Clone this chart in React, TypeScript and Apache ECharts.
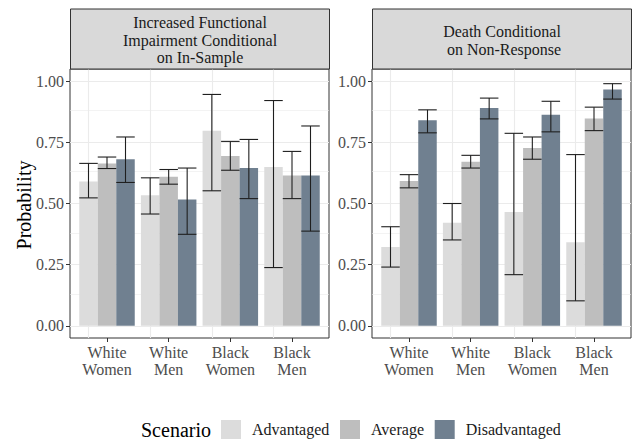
import React, { useEffect, useRef } from "react";
import * as echarts from "echarts";

const categories = ["White\nWomen", "White\nMen", "Black\nWomen", "Black\nMen"];
const scenarios = ["Advantaged", "Average", "Disadvantaged"];
const yTicks = [0, 0.25, 0.5, 0.75, 1];
const yMinorTicks = [0.125, 0.375, 0.625, 0.875];

// Panel 1: Increased Functional Impairment Conditional on In-Sample
const impAdv = [0.59, 0.534, 0.798, 0.649];
const impAdvLo = [0.523, 0.457, 0.552, 0.238];
const impAdvHi = [0.664, 0.605, 0.946, 0.921];
const impAvg = [0.664, 0.609, 0.694, 0.615];
const impAvgLo = [0.643, 0.579, 0.636, 0.52];
const impAvgHi = [0.69, 0.639, 0.754, 0.713];
const impDis = [0.681, 0.516, 0.645, 0.615];
const impDisLo = [0.586, 0.374, 0.52, 0.387];
const impDisHi = [0.772, 0.645, 0.762, 0.817];

// Panel 2: Death Conditional on Non-Response
const deaAdv = [0.322, 0.421, 0.465, 0.342];
const deaAdvLo = [0.24, 0.351, 0.209, 0.102];
const deaAdvHi = [0.405, 0.5, 0.787, 0.7];
const deaAvg = [0.592, 0.671, 0.727, 0.848];
const deaAvgLo = [0.564, 0.645, 0.681, 0.798];
const deaAvgHi = [0.618, 0.697, 0.772, 0.894];
const deaDis = [0.84, 0.891, 0.863, 0.966];
const deaDisLo = [0.789, 0.846, 0.793, 0.927];
const deaDisHi = [0.883, 0.931, 0.918, 0.99];

const panelTitles = [
  "Increased Functional\nImpairment Conditional\non In-Sample",
  "Death Conditional\n on Non-Response",
];

const colors = ["#DCDCDC", "#BEBEBE", "#708090"];
const FONT = "Liberation Serif";
const SMALL = 16;
const BIG = 20;

export default function App() {
  const ref = useRef<HTMLDivElement>(null);
  useEffect(() => {
    if (!ref.current) return;
    const chart = echarts.init(ref.current, null, { renderer: "svg" });

    const panels = [
      { vals: [impAdv, impAvg, impDis], lo: [impAdvLo, impAvgLo, impDisLo], hi: [impAdvHi, impAvgHi, impDisHi] },
      { vals: [deaAdv, deaAvg, deaDis], lo: [deaAdvLo, deaAvgLo, deaDisLo], hi: [deaAdvHi, deaAvgHi, deaDisHi] },
    ];
    const gridLefts = [70, 372];
    const gridW = 259;
    const gridTop = 69;
    const gridH = 269;

    const grids = gridLefts.map((l) => ({
      left: l,
      top: gridTop,
      width: gridW,
      height: gridH,
      show: true,
      borderColor: "#333333",
      borderWidth: 1,
      backgroundColor: "#ffffff",
      containLabel: false,
    }));

    const xAxes = gridLefts.map((_, gi) => ({
      type: "value",
      gridIndex: gi,
      min: 0.4,
      max: 4.6,
      axisLine: { show: false, onZero: false },
      splitLine: { show: false },
      axisTick: { show: true, customValues: [1, 2, 3, 4], length: 4, lineStyle: { color: "#333333", width: 1 } },
      axisLabel: {
        customValues: [1, 2, 3, 4],
        formatter: (v: number) => categories[Math.round(v) - 1],
        fontFamily: FONT,
        fontSize: SMALL,
        color: "#4D4D4D",
        lineHeight: 17,
        margin: 6,
      },
    }));

    const yAxes = gridLefts.map((_, gi) => ({
      type: "value",
      gridIndex: gi,
      min: -0.05,
      max: 1.05,
      axisLine: { show: false, onZero: false },
      splitLine: { show: false },
      axisTick: { show: true, customValues: yTicks, length: 4, lineStyle: { color: "#333333", width: 1 } },
      axisLabel: {
        customValues: yTicks,
        formatter: (v: number) => v.toFixed(2),
        fontFamily: FONT,
        fontSize: SMALL,
        color: "#4D4D4D",
        margin: 6,
      },
    }));

    const errRender = (params: any, api: any) => {
      const xv = api.value(0);
      const lo = api.value(1);
      const hi = api.value(2);
      const k = api.value(3);
      const band = api.size([1, 0])[0];
      const bw = (band * 0.9) / 3;
      const cx = api.coord([xv, 0])[0] + (k - 1) * bw;
      const yl = api.coord([xv, lo])[1];
      const yh = api.coord([xv, hi])[1];
      const h = bw / 2;
      const style = { stroke: "#1f1f1f", lineWidth: 1.1, fill: null };
      return {
        type: "group",
        children: [
          { type: "line", shape: { x1: cx, y1: yl, x2: cx, y2: yh }, style },
          { type: "line", shape: { x1: cx - h, y1: yh, x2: cx + h, y2: yh }, style },
          { type: "line", shape: { x1: cx - h, y1: yl, x2: cx + h, y2: yl }, style },
        ],
      };
    };

    const series: any[] = [];
    panels.forEach((p, gi) => {
      scenarios.forEach((name, k) => {
        const s: any = {
          type: "bar",
          name,
          xAxisIndex: gi,
          yAxisIndex: gi,
          data: p.vals[k].map((v, i) => [i + 1, v]),
          barWidth: "30%",
          barGap: "0%",
          itemStyle: { color: colors[k] },
          silent: true,
          z: 2,
        };
        if (k === 0) {
          s.markLine = {
            silent: true,
            symbol: "none",
            z: 1,
            label: { show: false },
            animation: false,
            data: [
              ...yMinorTicks.map((v) => ({ yAxis: v, lineStyle: { color: "#EBEBEB", width: 0.6, type: "solid" } })),
              ...yTicks.map((v) => ({ yAxis: v, lineStyle: { color: "#EBEBEB", width: 1.1, type: "solid" } })),
              ...[1, 2, 3, 4].map((v) => ({ xAxis: v, lineStyle: { color: "#EBEBEB", width: 1.1, type: "solid" } })),
            ],
          };
        }
        series.push(s);
      });
      const errData: number[][] = [];
      scenarios.forEach((_, k) => {
        p.vals[k].forEach((_, i) => errData.push([i + 1, p.lo[k][i], p.hi[k][i], k]));
      });
      series.push({
        type: "custom",
        name: "err" + gi,
        xAxisIndex: gi,
        yAxisIndex: gi,
        data: errData,
        encode: { x: 0, y: [1, 2] },
        renderItem: errRender,
        silent: true,
        z: 3,
      });
    });

    const graphics: any[] = [];
    gridLefts.forEach((l, gi) => {
      graphics.push({
        type: "rect",
        shape: { x: l + 0.5, y: 9, width: gridW, height: gridTop - 9 },
        style: { fill: "#D9D9D9", stroke: "#333333", lineWidth: 1 },
        z: 10,
      });
      graphics.push({
        type: "text",
        x: l + gridW / 2 + 0.5,
        y: gi === 0 ? 40 : 40.5,
        style: {
          text: panelTitles[gi],
          fontFamily: FONT,
          fontSize: SMALL,
          fill: "#1A1A1A",
          textAlign: "center",
          textVerticalAlign: "middle",
          lineHeight: 17.3,
        },
        z: 11,
      });
    });
    graphics.push({
      type: "text",
      x: 24,
      y: 205,
      rotation: Math.PI / 2,
      style: {
        text: "Probability",
        fontFamily: FONT,
        fontSize: BIG,
        fill: "#000000",
        textAlign: "center",
        textVerticalAlign: "middle",
      },
    });
    graphics.push({
      type: "text",
      x: 141,
      y: 429.5,
      style: {
        text: "Scenario",
        fontFamily: FONT,
        fontSize: BIG,
        fill: "#000000",
        textAlign: "left",
        textVerticalAlign: "middle",
      },
    });

    chart.setOption({
      animation: false,
      backgroundColor: "#ffffff",
      grid: grids,
      xAxis: xAxes,
      yAxis: yAxes,
      series,
      legend: {
        data: scenarios,
        left: 221,
        top: 420,
        orient: "horizontal",
        icon: "rect",
        itemWidth: 20,
        itemHeight: 19,
        itemGap: 10.7,
        selectedMode: false,
        padding: 0,
        textStyle: { fontFamily: FONT, fontSize: SMALL, color: "#1A1A1A", padding: [0, 0, 0, 6] },
      },
      graphic: graphics,
    });
    return () => chart.dispose();
  }, []);
  return (
    <div
      ref={ref}
      style={{ position: "absolute", left: 0, top: 0, width: 633, height: 439 }}
    />
  );
}
